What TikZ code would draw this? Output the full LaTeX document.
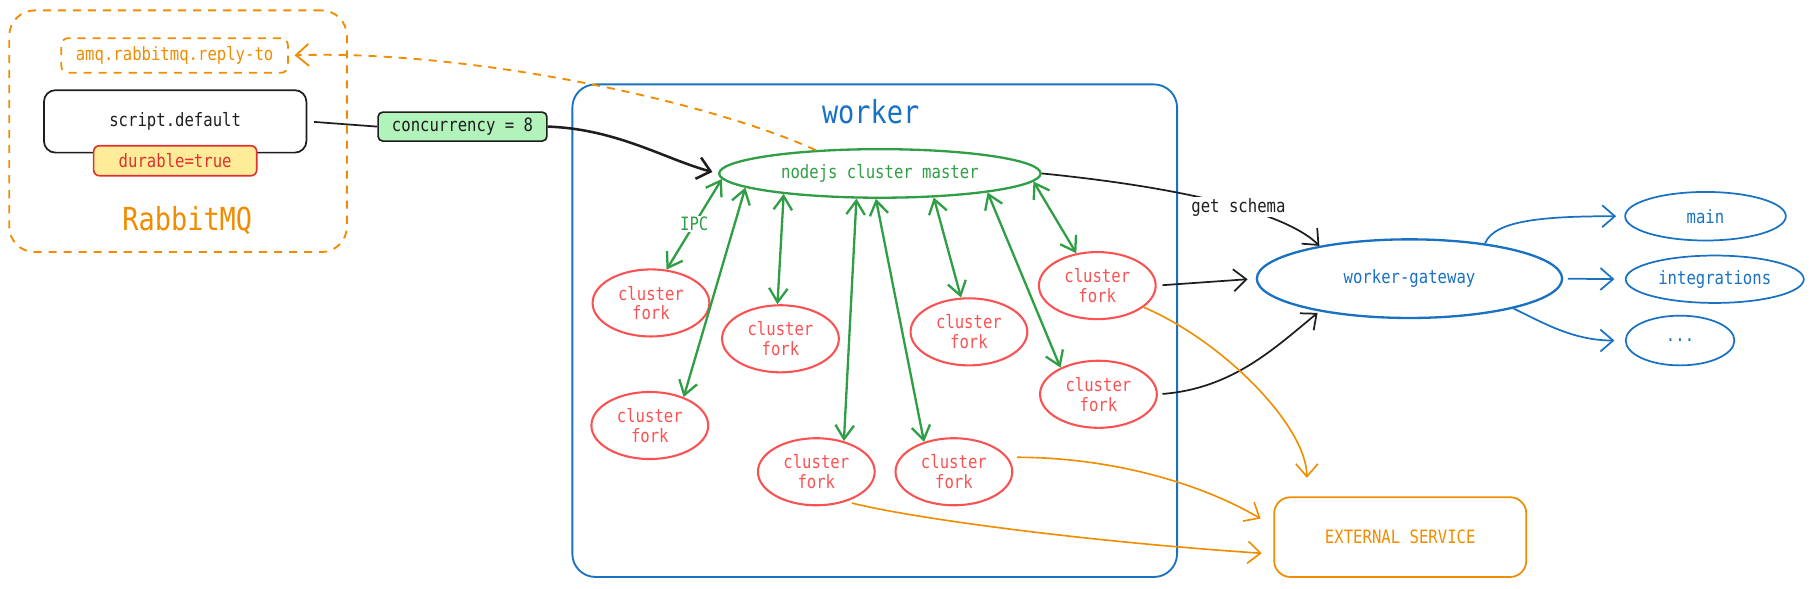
\documentclass[tikz,border=0pt]{standalone}
\usepackage{fontspec}
\newfontfamily\hand{DejaVu Sans Mono}[FakeStretch=0.85]
\usetikzlibrary{arrows.meta,shapes.geometric,calc}
\definecolor{cOr}{HTML}{F08C00}
\definecolor{cBl}{HTML}{1971C2}
\definecolor{cGr}{HTML}{2F9E44}
\definecolor{cRd}{HTML}{FA5252}
\definecolor{cRdd}{HTML}{E03131}
\definecolor{cYe}{HTML}{FFEC99}
\definecolor{cLg}{HTML}{B2F2BB}
\definecolor{cBk}{HTML}{1E1E1E}
\tikzset{
  txt/.style={font=\hand\fontsize{15.9}{17}\selectfont},
  bigtxt/.style={font=\hand\fontsize{27.4}{30}\selectfont},
  fork/.style={ellipse, draw=cRd, line width=1.8pt, text=cRd, minimum width=101pt, minimum height=58pt, inner sep=0pt, align=center, txt},
  oval/.style={ellipse, draw=cBl, line width=1.5pt, text=cBl, inner sep=0pt, txt},
  arr/.style={-{Straight Barb[length=11pt,width=19pt]}},
  darr/.style={{Straight Barb[length=12pt,width=16pt]}-{Straight Barb[length=12pt,width=16pt]}},
  grn/.style={cGr, line width=2pt, darr},
  blk/.style={cBk, line width=1.5pt, arr},
  orl/.style={cOr, line width=1.4pt, arr},
  bll/.style={cBl, line width=1.5pt, arr},
  odash/.style={dash pattern=on 7pt off 6pt},
}
\begin{document}
\begin{tikzpicture}[x=1pt,y=-1pt]
\useasboundingbox (0,0) rectangle (1568,509);

% RabbitMQ group
\node[draw=cOr, line width=1.6pt, odash, rounded corners=22pt, minimum width=292pt, minimum height=209pt, inner sep=0pt] (rabbit) at (154,113.5) {};
\node[draw=cOr, line width=1.5pt, odash, rounded corners=6pt, minimum width=196pt, minimum height=30pt, inner sep=0pt, txt, text=cOr] (amq) at (151,48) {amq.rabbitmq.reply-to};
\node[draw=cBk, line width=1.5pt, rounded corners=10pt, minimum width=227pt, minimum height=54pt, inner sep=0pt, txt, text=cBk] (script) at (151.5,105) {script.default};
\node[draw=cRdd, fill=cYe, line width=1.4pt, rounded corners=5pt, minimum width=141pt, minimum height=26pt, inner sep=0pt, txt, text=cRdd] (durable) at (151.5,139) {durable=true};
\node[bigtxt, text=cOr] (rlabel) at (162,191) {RabbitMQ};

\node[draw=cBk, fill=cLg, line width=1.4pt, rounded corners=4pt, minimum width=146pt, minimum height=25pt, inner sep=0pt, txt, text=cBk] (conc) at (400,109.5) {concurrency = 8};

% worker group
\node[draw=cBl, line width=1.6pt, rounded corners=20pt, minimum width=523pt, minimum height=426pt, inner sep=0pt] (worker) at (756.5,286) {};
\node[bigtxt, text=cBl] (wtitle) at (753,97) {worker};

\node[ellipse, draw=cGr, line width=2pt, text=cGr, minimum width=278pt, minimum height=42pt, inner sep=0pt, txt] (master) at (761,150) {nodejs cluster master};

\node[fork] (f1) at (563,262) {cluster\\fork};
\node[fork] (f2) at (675,293) {cluster\\fork};
\node[fork] (f3) at (562,368) {cluster\\fork};
\node[fork] (f4) at (706,408) {cluster\\fork};
\node[fork] (f5) at (825,408) {cluster\\fork};
\node[fork] (f6) at (838,287) {cluster\\fork};
\node[fork] (f7) at (949,247) {cluster\\fork};
\node[fork] (f8) at (950,341) {cluster\\fork};

% right side
\node[oval, line width=2pt, minimum width=264pt, minimum height=68pt] (gw) at (1219,241) {worker-gateway};
\node[oval, minimum width=139pt, minimum height=42pt] (main) at (1475,187) {main};
\node[oval, minimum width=154pt, minimum height=41pt] (integ) at (1483,241.5) {integrations};
\node[oval, minimum width=94pt, minimum height=43pt] (dots) at (1453,294.5) {...};

\node[draw=cOr, line width=1.5pt, rounded corners=14pt, minimum width=218pt, minimum height=69pt, inner sep=0pt, txt, text=cOr] (ext) at (1211,464.5) {EXTERNAL SERVICE};

% connectors: queue side
\draw[cBk, line width=1.5pt, shorten <=6pt] (script.east) -- (conc.west);
\draw[cBk, line width=2.2pt, arr, shorten >=5pt] (conc.east) .. controls +(60,2) and +(-45,-12) .. (master.west);
\draw[cOr, line width=1.6pt, odash, arr, shorten >=5pt] (master.160) .. controls +(-100,-45) and +(150,-5) .. (amq.east);

% IPC
\draw[grn] (master.182.4) -- (f1.65.6) node[midway, fill=white, inner sep=1pt, txt, text=cGr] (ipc) {IPC};
\draw[grn] (master.186.5) -- (f3.40.7);
\draw[grn] (master.192.1) -- (f2.95);
\draw[grn] (master.227.6) -- (f4.48.8);
\draw[grn] (master.261.9) -- (f5.135);
\draw[grn] (master.336.1) -- (f6.103);
\draw[grn] (master.350.1) -- (f8.145);
\draw[grn] (master.357.1) -- (f7.123);

% gateway
\draw[blk] (master.east) .. controls +(140,14) and +(-25,-25) .. (gw.160) node[pos=0.53, fill=white, inner sep=1pt, txt, text=cBk] (gs) {get schema};
\draw[blk, shorten <=5pt, shorten >=7pt] (f7.east) -- (gw.west);
\draw[blk, shorten <=4pt, shorten >=2pt] (f8.east) .. controls +(65,-5) and +(-38,31) .. (gw.200);

\draw[bll, shorten >=7pt] (gw.25) .. controls +(8,-20) and +(-70,0) .. (main.west);
\draw[bll, shorten <=4pt, shorten >=9pt] (gw.east) -- (integ.west);
\draw[bll, shorten >=9pt] (gw.-16) .. controls +(25,12) and +(-45,0) .. (dots.west);

% external service
\draw[orl, shorten >=16pt] (f7.-25) .. controls +(70,30) and +(0,-60) .. ([xshift=29pt]ext.north west);
\draw[orl, shorten <=8pt] (f5.15) .. controls +(80,0) and +(-60,-35) .. ([xshift=-11pt,yshift=16pt]ext.west);
\draw[orl, shorten <=5pt] (f4.-45) .. controls +(60,15) and +(-150,-10) .. ([xshift=-10pt,yshift=-14pt]ext.west);
\end{tikzpicture}
\end{document}
